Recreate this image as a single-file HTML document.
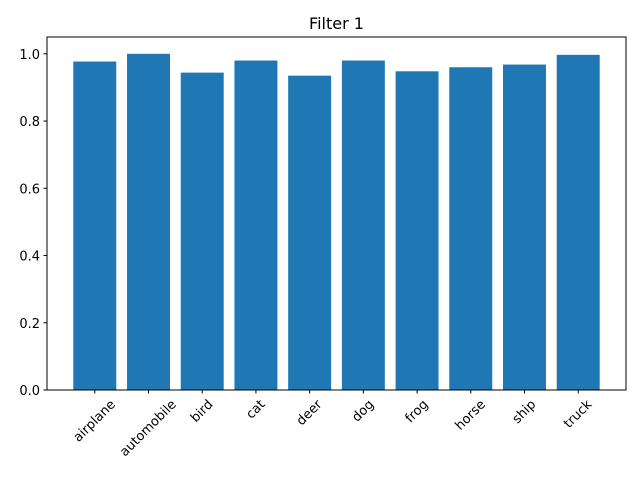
<!DOCTYPE html>
<html><head><meta charset="utf-8"><style>body{margin:0;background:#fff}svg{display:block;font-family:"DejaVu Sans","Liberation Sans",sans-serif}</style></head>
<body>
<svg id="c" width="640" height="480"></svg>
<script>
const categories=["airplane","automobile","bird","cat","deer","dog","frog","horse","ship","truck"];
const values=[0.977,1.0,0.944,0.98,0.935,0.98,0.948,0.96,0.968,0.997];
const yTicks=[0,0.2,0.4,0.6,0.8,1.0];
const yTickLabels=["0.0","0.2","0.4","0.6","0.8","1.0"];
const NS="http://www.w3.org/2000/svg";
const svg=document.getElementById('c');
const L=47,R=626,T=37,B=390;
const xmin=-0.89,xmax=categories.length-1+0.89;
const x=v=>L+(v-xmin)/(xmax-xmin)*(R-L);
const y=v=>B-v/1.05*(B-T);
function mk(t,a){const e=document.createElementNS(NS,t);for(const k in a)e.setAttribute(k,a[k]);svg.appendChild(e);return e;}
const bw=x(0.8)-x(0);
values.forEach((v,i)=>{const r=mk('rect',{x:x(i)-bw/2,y:y(v),width:bw,height:B-y(v),fill:'#1f77b4'});

});
const ax=mk('rect',{x:L,y:T,width:R-L,height:B-T,fill:'none',stroke:'#000','stroke-width':1});


yTicks.forEach((v,i)=>{mk('line',{x1:L-3.5,x2:L,y1:y(v),y2:y(v),stroke:'#000'});
const t=mk('text',{x:L-7,y:y(v)+5,'text-anchor':'end','font-size':13});t.textContent=yTickLabels[i];

});
categories.forEach((c,i)=>{const xx=x(i);mk('line',{x1:xx,x2:xx,y1:B,y2:B+3.5,stroke:'#000'});
const t=mk('text',{x:0,y:0,'text-anchor':'middle','dominant-baseline':'central','font-size':13});t.textContent=c;


const w=t.getComputedTextLength(),h=13;
const cy=B+8+(w+h)*0.3536;
t.setAttribute('x',xx);t.setAttribute('y',cy);
t.setAttribute('transform',`rotate(-45 ${xx} ${cy})`);});
const ti=mk('text',{x:(L+R)/2,y:T-8,'text-anchor':'middle','font-size':16});ti.textContent='Filter 1';


</script>
</body></html>
